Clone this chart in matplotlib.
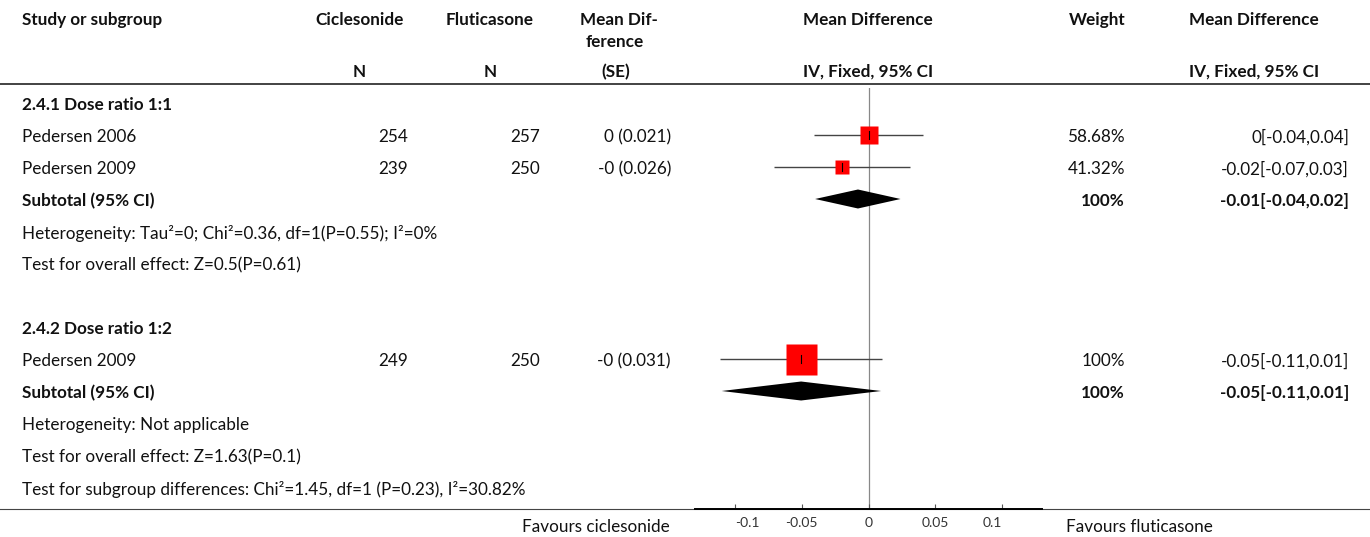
import numpy as np
import matplotlib
matplotlib.use('Agg')
import matplotlib.pyplot as plt
from matplotlib.patches import Polygon

plt.rcParams['font.family'] = ['Lato', 'DejaVu Sans']

# Forest plot data (mean difference, IV fixed)
groups = ['2.4.1 Dose ratio 1:1', '2.4.2 Dose ratio 1:2']
study_names = ['Pedersen 2006', 'Pedersen 2009', 'Pedersen 2009']
study_group = [0, 0, 1]
n_cic = [254, 239, 249]
n_flu = [257, 250, 250]
md_se_txt = ['0 (0.021)', '-0 (0.026)', '-0 (0.031)']
md = [0.0, -0.02, -0.0505]
se = [0.021, 0.026, 0.031]
weights = [58.68, 41.32, 100.0]
ci_txt = ['0[-0.04,0.04]', '-0.02[-0.07,0.03]', '-0.05[-0.11,0.01]']

sub_md = [-0.0079, -0.0505]
sub_lo = [-0.040, -0.110]
sub_hi = [0.024, 0.0095]
sub_weight_txt = ['100%', '100%']
sub_ci_txt = ['-0.01[-0.04,0.02]', '-0.05[-0.11,0.01]']
heterogeneity = ['Heterogeneity: Tau²=0; Chi²=0.36, df=1(P=0.55); I²=0%',
                 'Heterogeneity: Not applicable']
overall_effect = ['Test for overall effect: Z=0.5(P=0.61)',
                  'Test for overall effect: Z=1.63(P=0.1)']
subgroup_test = 'Test for subgroup differences: Chi²=1.45, df=1 (P=0.23), I²=30.82%'

xticks = [-0.1, -0.05, 0, 0.05, 0.1]
xtick_labels = ['-0.1', '-0.05', '0', '0.05', '0.1']
left_label = 'Favours ciclesonide'
right_label = 'Favours fluticasone'

# layout (pixels)
W, H = 1370, 537
FS = 12.3
TXT = '#111111'
ROW0, STEP = 104, 32
group_start = [0, 7]

fig = plt.figure(figsize=(W / 100, H / 100), dpi=100)
tab = fig.add_axes([0, 0, 1, 1])
tab.set_xlim(0, W)
tab.set_ylim(H, 0)
tab.axis('off')

def row_y(i):
    return ROW0 + i * STEP

def put(x, y, s, ha='left', bold=False, size=FS):
    tab.text(x, y + 1, s, ha=ha, va='center', fontsize=size, color=TXT,
             fontweight='bold' if bold else 'normal')

# header
put(22, 19, 'Study or subgroup', bold=True)
put(360, 19, 'Ciclesonide', ha='center', bold=True)
put(359, 71, 'N', ha='center', bold=True)
put(490, 19, 'Fluticasone', ha='center', bold=True)
put(490, 71, 'N', ha='center', bold=True)
put(619, 19, 'Mean Dif-', ha='center', bold=True)
put(615, 41, 'ference', ha='center', bold=True)
put(616, 71, '(SE)', ha='center', bold=True)
put(868, 19, 'Mean Difference', ha='center', bold=True)
put(868, 71, 'IV, Fixed, 95% CI', ha='center', bold=True)
put(1125, 19, 'Weight', ha='right', bold=True)
put(1319, 19, 'Mean Difference', ha='right', bold=True)
put(1319, 71, 'IV, Fixed, 95% CI', ha='right', bold=True)
tab.plot([0, W], [84, 84], color='#222222', lw=1.2)
tab.plot([0, W], [509, 509], color='#444444', lw=0.8)

# forest axes
ax = fig.add_axes([695 / W, (H - 509) / H, (1042 - 695) / W, (509 - 88) / H])
ax.set_xlim(-0.13, 0.13)
ax.set_ylim(509, 88)
ax.patch.set_alpha(0)
for s in ['top', 'left', 'right']:
    ax.spines[s].set_visible(False)
ax.spines['bottom'].set_linewidth(1.4)
ax.spines['bottom'].set_color('black')
ax.set_yticks([])
ax.set_xticks(xticks)
ax.set_xticklabels(xtick_labels, fontsize=10, color='#333333')
ax.tick_params(axis='x', direction='in', length=3.5, width=0.8,
               color='#555555', pad=6)
tl = ax.get_xticklabels()
tl[0].set_ha('left')
tl[-1].set_ha('right')
ax.axvline(0, color='#888888', lw=0.9, zorder=1)

for g, gname in enumerate(groups):
    i0 = group_start[g]
    put(22, row_y(i0), gname, bold=True)
    r = i0 + 1
    for j in range(len(study_names)):
        if study_group[j] != g:
            continue
        y = row_y(r)
        r += 1
        put(22, y, study_names[j])
        put(408, y, str(n_cic[j]), ha='right')
        put(540, y, str(n_flu[j]), ha='right')
        put(671, y, md_se_txt[j], ha='right')
        put(1125, y, f'{weights[j]:g}%', ha='right')
        put(1349, y, ci_txt[j], ha='right')
        lo, hi = md[j] - 1.96 * se[j], md[j] + 1.96 * se[j]
        yy = y - 1
        ax.plot([lo, hi], [yy, yy], color='#444444', lw=1.0, zorder=2,
                solid_capstyle='butt')
        side_px = 1 + 0.30 * weights[j]
        ax.plot(md[j], yy, marker='s', markersize=side_px * 0.72,
                color='#ff0000', mec='none', zorder=3)
        ax.plot([md[j], md[j]], [yy - 4, yy + 4], color='black', lw=0.8,
                zorder=4)
    ys = row_y(r)
    put(22, ys, 'Subtotal (95% CI)', bold=True)
    put(1125, ys, sub_weight_txt[g], ha='right', bold=True)
    put(1349, ys, sub_ci_txt[g], ha='right', bold=True)
    yd = ys - 1
    diamond = Polygon([[sub_lo[g], yd], [sub_md[g], yd - 9.5],
                       [sub_hi[g], yd], [sub_md[g], yd + 9.5]],
                      closed=True, facecolor='black', edgecolor='none',
                      zorder=3)
    ax.add_patch(diamond)
    put(22, row_y(r + 1), heterogeneity[g])
    put(22, row_y(r + 2), overall_effect[g])

put(22, row_y(12), subgroup_test)

put(670, 526, left_label, ha='right')
put(1066, 526, right_label, ha='left')

fig.savefig('out.png', dpi=100)
